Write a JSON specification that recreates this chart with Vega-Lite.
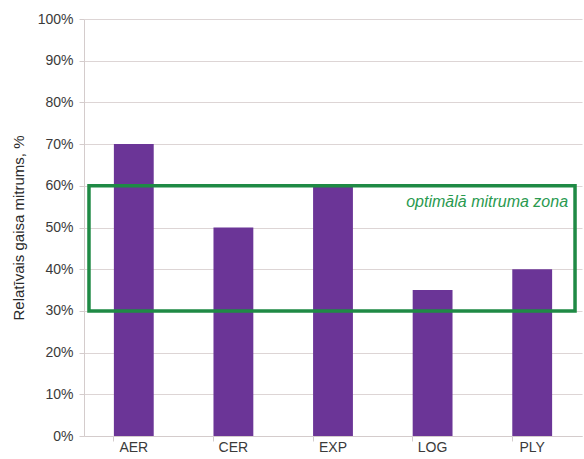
{
  "$schema": "https://vega.github.io/schema/vega-lite/v6.json",
  "width": 498,
  "height": 417,
  "autosize": {"type": "none"},
  "padding": {"left": 84, "top": 19, "right": 2, "bottom": 23},
  "background": "white",
  "config": {
    "view": {"stroke": null},
    "font": "Liberation Sans",
    "axis": {
      "labelFont": "Liberation Sans",
      "labelFontSize": 14,
      "labelColor": "#3a3a3a",
      "titleFont": "Liberation Sans",
      "titleFontWeight": "normal",
      "titleColor": "#2a2a2a",
      "domainColor": "#d4cccc",
      "tickColor": "#d4cccc",
      "gridColor": "#ddd5d5"
    }
  },
  "datasets": {
    "humidity": [
      {"room": "AER", "rh": 0.70},
      {"room": "CER", "rh": 0.50},
      {"room": "EXP", "rh": 0.60},
      {"room": "LOG", "rh": 0.35},
      {"room": "PLY", "rh": 0.40}
    ],
    "zone": [
      {"from": 1, "to": 98.6, "low": 0.30, "high": 0.60, "pos": 97.2, "mid": 0.56, "label": "optimālā mitruma zona"}
    ]
  },
  "layer": [
    {
      "data": {"name": "humidity"},
      "mark": {"type": "bar", "color": "#6b3597"},
      "encoding": {
        "x": {
          "field": "room",
          "type": "nominal",
          "sort": null,
          "scale": {"paddingInner": 0.6, "paddingOuter": 0.3},
          "axis": {
            "orient": "bottom",
            "title": null,
            "labelAngle": 0,
            "labelPadding": 4,
            "ticks": false,
            "domain": true,
            "grid": false
          }
        },
        "y": {
          "field": "rh",
          "type": "quantitative",
          "scale": {"domain": [0, 1], "nice": false},
          "axis": {
            "title": "Relatīvais gaisa mitrums, %",
            "titleFontSize": 15,
            "titlePadding": 11,
            "format": ".0%",
            "values": [0, 0.1, 0.2, 0.3, 0.4, 0.5, 0.6, 0.7, 0.8, 0.9, 1],
            "tickSize": 5,
            "labelPadding": 6,
            "grid": true,
            "domain": true
          }
        }
      }
    },
    {
      "data": {"name": "humidity"},
      "mark": {"type": "tick", "opacity": 0},
      "encoding": {
        "x": {
          "field": "room",
          "type": "nominal",
          "sort": null,
          "scale": {"paddingInner": 0.6, "paddingOuter": 0.3},
          "axis": {
            "orient": "bottom",
            "bandPosition": 0,
            "labels": false,
            "domain": false,
            "ticks": true,
            "tickSize": 5,
            "title": null,
            "grid": false
          }
        },
        "y": {"field": "rh", "type": "quantitative"}
      }
    },
    {
      "data": {"name": "zone"},
      "mark": {"type": "rect", "fill": null, "fillOpacity": 0, "stroke": "#1f8a45", "strokeWidth": 3.5},
      "encoding": {
        "x": {"field": "from", "type": "quantitative", "scale": {"domain": [0, 100]}, "axis": null},
        "x2": {"field": "to"},
        "y": {"field": "low", "type": "quantitative"},
        "y2": {"field": "high"}
      }
    },
    {
      "data": {"name": "zone"},
      "mark": {
        "type": "text",
        "align": "right",
        "baseline": "middle",
        "fontStyle": "italic",
        "fontSize": 16,
        "color": "#2a9a50",
        "font": "Liberation Sans"
      },
      "encoding": {
        "x": {"field": "pos", "type": "quantitative", "scale": {"domain": [0, 100]}, "axis": null},
        "y": {"field": "mid", "type": "quantitative"},
        "text": {"field": "label"}
      }
    }
  ],
  "resolve": {"scale": {"x": "independent"}, "axis": {"x": "independent"}}
}
